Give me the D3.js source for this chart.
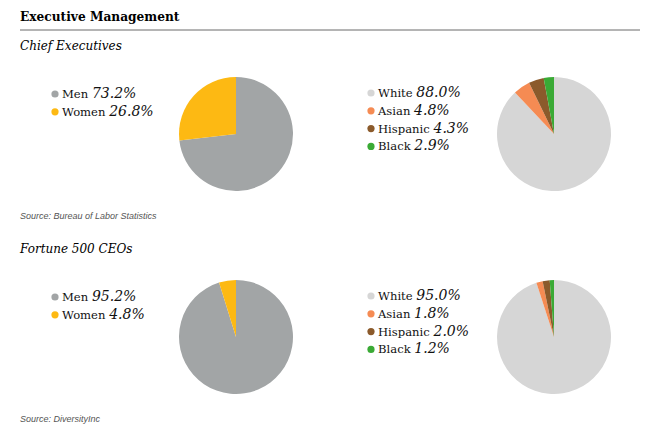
<!DOCTYPE html>
<html>
<head>
<meta charset="utf-8">
<script src="https://cdn.jsdelivr.net/npm/d3@7/dist/d3.min.js"></script>
<style>
  body { margin:0; background:#fff; }
  svg text { font-family: "DejaVu Serif", "Liberation Serif", serif; }
  .src { font-family: "Liberation Sans", Arial, sans-serif !important; font-style: italic; font-size: 9px; fill:#555; }
</style>
</head>
<body>
<div id="chart"></div>
<script>
// data
var genderLabels = ["Men", "Women"];
var raceLabels = ["White", "Asian", "Hispanic", "Black"];
var ceoGender = [73.2, 26.8];
var ceoRace = [88.0, 4.8, 4.3, 2.9];
var f500Gender = [95.2, 4.8];
var f500Race = [95.0, 1.8, 2.0, 1.2];

var genderColors = ["#a2a5a6", "#fdb913"];
var raceColors = ["#d6d6d6", "#f58b53", "#8b5a2b", "#3aaa35"];

const svg_width = 660, svg_height = 434;
const svg = d3.select('#chart').append('svg')
  .attr('width', svg_width).attr('height', svg_height);

svg.append('text').attr('x', 20).attr('y', 21)
  .style('font-size', '12.2px').style('font-weight', 'bold')
  .text('Executive Management');
svg.append('line').attr('x1', 20).attr('x2', 640).attr('y1', 30).attr('y2', 30)
  .attr('stroke', '#6b6b6b').attr('stroke-width', 1);

const pie = d3.pie().sort(null);
const arc = d3.arc().innerRadius(0).outerRadius(57);

function drawPie(cx, cy, values, colors) {
  const g = svg.append('g').attr('transform', `translate(${cx},${cy})`);
  g.selectAll('path').data(pie(values)).enter().append('path')
    .attr('d', arc).attr('fill', (d, i) => colors[i]);
}

function drawLegend(x, y, labels, values, colors) {
  const rowH = 17.8;
  const g = svg.append('g').attr('transform', `translate(${x},${y})`);
  const rows = g.selectAll('g').data(labels).enter().append('g')
    .attr('transform', (d, i) => `translate(0,${i * rowH})`);
  rows.append('circle').attr('cx', 0).attr('cy', -4).attr('r', 3.6)
    .attr('fill', (d, i) => colors[i]);
  const t = rows.append('text').attr('x', 7).attr('y', 0).style('fill', '#111');
  t.append('tspan').style('font-size', '11.6px').text(d => d + ' ');
  t.append('tspan').style('font-size', '14px').style('font-style', 'italic')
    .text((d, i) => values[i].toFixed(1) + '%');
}

function section(top, title, source, gVals, rVals) {
  svg.append('text').attr('x', 20).attr('y', top).style('font-size', '12px')
    .style('font-style', 'italic')
    .text(title);
  drawLegend(55, top + 48, genderLabels, gVals, genderColors);
  drawLegend(371, top + 47, raceLabels, rVals, raceColors);
  drawPie(236, top + 84, gVals, genderColors);
  drawPie(554, top + 84, rVals, raceColors);
  svg.append('text').attr('class', 'src').attr('x', 20).attr('y', top + 169).text(source);
}

section(50, 'Chief Executives', 'Source: Bureau of Labor Statistics', ceoGender, ceoRace);
section(253, 'Fortune 500 CEOs', 'Source: DiversityInc', f500Gender, f500Race);
</script>
</body>
</html>
